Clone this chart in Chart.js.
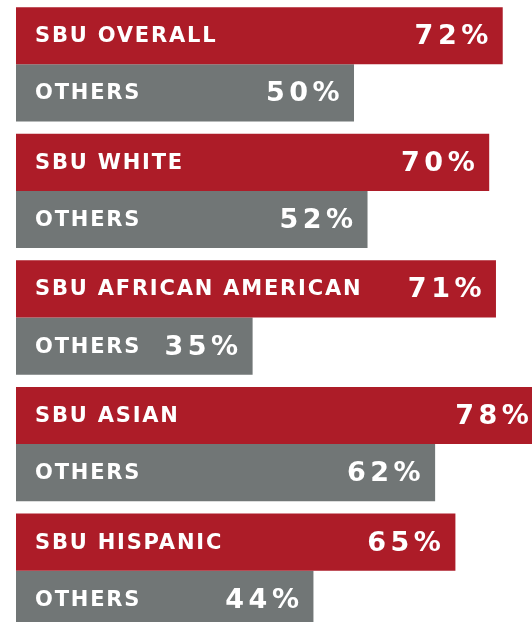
<!DOCTYPE html>
<html>
<head>
<meta charset="utf-8">
<script src="https://cdn.jsdelivr.net/npm/chart.js@4/dist/chart.umd.min.js"></script>
<style>
  html, body { margin: 0; padding: 0; background: #ffffff; width: 532px; height: 622px; overflow: hidden; }
  #wrap { position: absolute; left: 0; top: 0; width: 532px; height: 634px; }
</style>
</head>
<body>
<div id="wrap"><canvas id="c"></canvas></div>
<script>
const categories = ['SBU OVERALL', 'SBU WHITE', 'SBU AFRICAN AMERICAN', 'SBU ASIAN', 'SBU HISPANIC'];
const sbuValues = [72, 70, 71, 78, 65];
const othersValues = [50, 52, 35, 62, 44];
const othersLabel = 'OTHERS';

const RED = '#ad1c28';
const GRAY = '#717676';

const labelPlugin = {
  id: 'barLabels',
  afterDatasetsDraw(chart) {
    const ctx = chart.ctx;
    ctx.save();
    chart.data.datasets.forEach((ds, di) => {
      const meta = chart.getDatasetMeta(di);
      meta.data.forEach((bar, i) => {
        const name = di === 0 ? categories[i] : othersLabel;
        const val = ds.data[i] + '%';
        ctx.fillStyle = '#ffffff';
        ctx.textBaseline = 'middle';
        // name
        ctx.font = 'bold 21px "DejaVu Sans"';
        ctx.letterSpacing = '1.8px';
        ctx.textAlign = 'left';
        ctx.fillText(name, bar.base + 19, bar.y + 1);
        // value
        ctx.font = 'bold 27px "DejaVu Sans"';
        ctx.letterSpacing = '4.5px';
        ctx.textAlign = 'right';
        ctx.fillText(val, bar.x - 10, bar.y + 1.5);
      });
    });
    ctx.restore();
  }
};

new Chart(document.getElementById('c'), {
  type: 'bar',
  data: {
    labels: categories,
    datasets: [
      { label: 'SBU', data: sbuValues, backgroundColor: RED, borderWidth: 0 },
      { label: othersLabel, data: othersValues, backgroundColor: GRAY, borderWidth: 0 }
    ]
  },
  options: {
    indexAxis: 'y',
    responsive: true,
    maintainAspectRatio: false,
    animation: false,
    devicePixelRatio: 1,
    layout: { padding: { left: 16, right: 0, top: 1, bottom: 0 } },
    datasets: { bar: { barPercentage: 1, categoryPercentage: 0.903 } },
    plugins: { legend: { display: false }, tooltip: { enabled: false } },
    scales: {
      x: { display: false, min: 0, max: 76.33 },
      y: { display: false }
    }
  },
  plugins: [labelPlugin]
});
</script>
</body>
</html>
